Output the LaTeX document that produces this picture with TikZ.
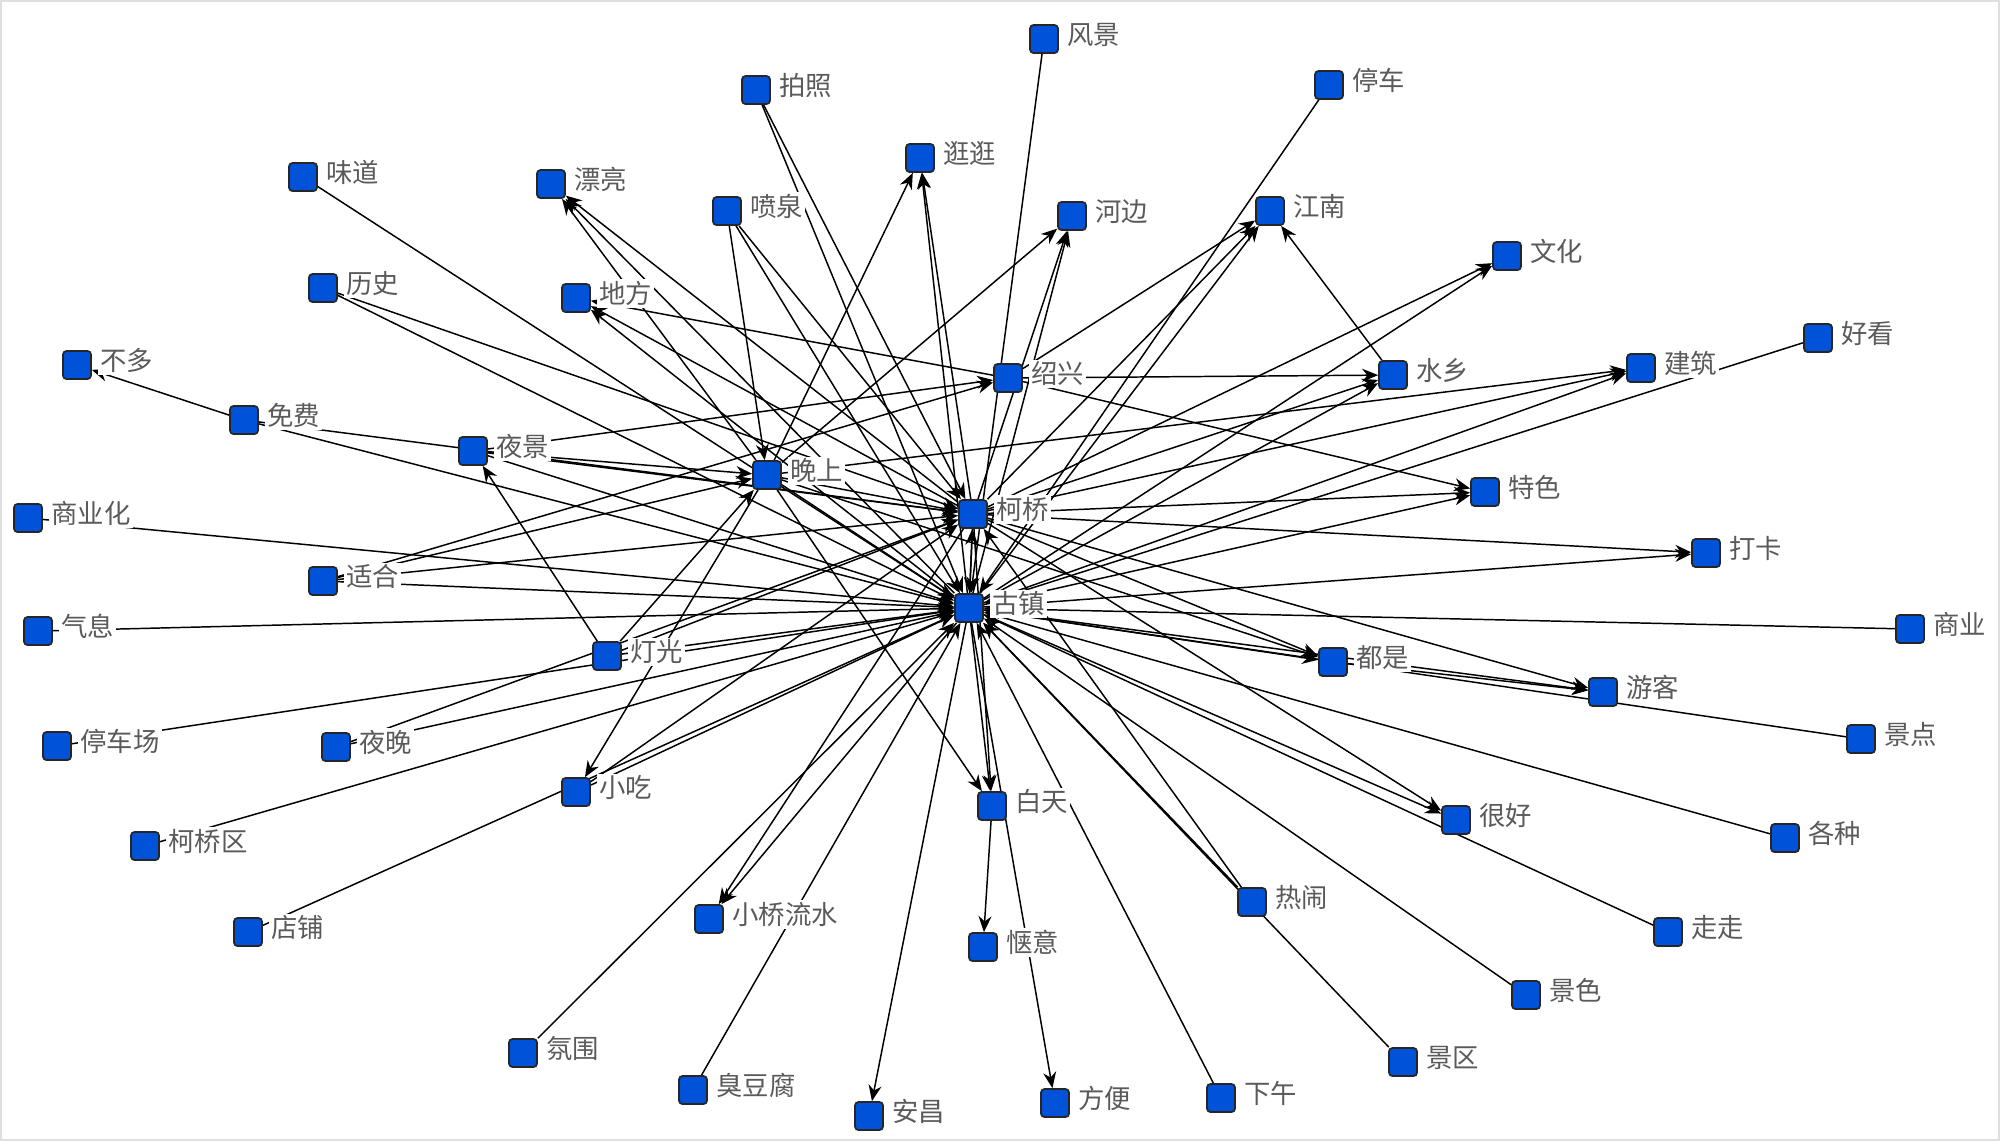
\documentclass[tikz,border=0pt]{standalone}
\usepackage{fontspec}
\usepackage{xcolor}
\usepackage{tikz}
\usetikzlibrary{positioning,arrows.meta,backgrounds}
\newfontfamily\cjk{Noto Sans CJK SC}
\definecolor{nodeblue}{RGB}{0,82,216}
\definecolor{labelgray}{RGB}{90,90,90}
\pgfdeclarelayer{background}
\pgfsetlayers{background,main}
\tikzset{
  sq/.style={draw=black!85, fill=nodeblue, line width=0.5pt, minimum size=0.28cm,
             inner sep=0pt, rounded corners=0.35mm},
  lbl/.style={fill=white, inner sep=0.6pt, text=labelgray,
              font=\cjk\fontsize{7.5}{8.5}\selectfont, yshift=1.2pt},
  arrow/.style={-{Stealth[length=1.6mm,width=1.3mm]}, line width=0.42pt},
}

\begin{document}
\begin{tikzpicture}[x=0.01cm, y=-0.01cm]
  \useasboundingbox (0,0) rectangle (2000,1141);
  \draw[gray!25, line width=0.6pt] (1,1) rectangle (1999,1140);

  % hubs
  \node[sq] (gz)  at (969,608)  {};
  \node[sq] (kq)  at (973,514)  {};
  \node[sq] (sx)  at (1008,378) {};
  \node[sq] (ws)  at (767,475)  {};
  % top
  \node[sq] (fj)  at (1044,39)  {};
  \node[sq] (pz)  at (756,90)   {};
  \node[sq] (tc)  at (1329,85)  {};
  \node[sq] (gg)  at (920,158)  {};
  \node[sq] (wd)  at (303,177)  {};
  \node[sq] (pl)  at (551,184)  {};
  \node[sq] (pq)  at (727,211)  {};
  \node[sq] (hb)  at (1072,216) {};
  \node[sq] (jn)  at (1270,211) {};
  \node[sq] (wh)  at (1507,256) {};
  \node[sq] (ls)  at (323,288)  {};
  \node[sq] (df)  at (576,298)  {};
  \node[sq] (hk)  at (1818,338) {};
  \node[sq] (bd)  at (77,365)   {};
  \node[sq] (jz)  at (1641,368) {};
  \node[sq] (sxg) at (1393,375) {};
  % middle
  \node[sq] (mf)  at (244,420)  {};
  \node[sq] (yj)  at (473,451)  {};
  \node[sq] (ts)  at (1485,492) {};
  \node[sq] (syh) at (28,518)   {};
  \node[sq] (dk)  at (1706,553) {};
  \node[sq] (sh)  at (323,581)  {};
  \node[sq] (qx)  at (38,631)   {};
  \node[sq] (sy)  at (1910,629) {};
  \node[sq] (dg)  at (607,656)  {};
  \node[sq] (ds)  at (1333,662) {};
  \node[sq] (yk)  at (1603,692) {};
  \node[sq] (tcc) at (57,746)   {};
  \node[sq] (yw)  at (336,747)  {};
  \node[sq] (jd)  at (1861,739) {};
  % bottom
  \node[sq] (xc)  at (576,792)  {};
  \node[sq] (bt)  at (992,806)  {};
  \node[sq] (hh)  at (1456,820) {};
  \node[sq] (kqq) at (145,846)  {};
  \node[sq] (gzh) at (1785,838) {};
  \node[sq] (rn)  at (1252,902) {};
  \node[sq] (dp)  at (248,932)  {};
  \node[sq] (xq)  at (709,919)  {};
  \node[sq] (qy)  at (983,947)  {};
  \node[sq] (zz)  at (1668,932) {};
  \node[sq] (js)  at (1526,995) {};
  \node[sq] (jq)  at (1403,1062) {};
  \node[sq] (fw)  at (523,1053) {};
  \node[sq] (cdf) at (693,1090) {};
  \node[sq] (xw)  at (1221,1098) {};
  \node[sq] (fb)  at (1055,1103) {};
  \node[sq] (ac)  at (869,1116) {};

  \begin{pgfonlayer}{background}
    % into the two hubs
    \foreach \s in {wd,ls,syh,qx,tcc,kqq,dp,fw,cdf,xw,jq,js,zz,gzh,jd,sy,hk,tc,fj,
                    sh,mf,yw,dg,xc,yj,rn,ws,pz,pq,kq}
      \draw[arrow] (\s) -- (gz);
    \foreach \s in {ls,pz,pq,sh,mf,yw,dg,xc,yj,rn,ws,gz}
      \draw[arrow] (\s) -- (kq);
    % out of the two hubs
    \foreach \t in {gg,pl,df,hb,jn,wh,sxg,jz,ts,dk,ds,yk,hh,bt,fb,ac,xq}
      \draw[arrow] (gz) -- (\t);
    \foreach \t in {gg,pl,df,hb,jn,wh,sxg,jz,ts,dk,ds,yk,hh,bt,xq}
      \draw[arrow] (kq) -- (\t);
    % evening
    \foreach \t in {gg,pl,hb,bt,xc,ds,jz}
      \draw[arrow] (ws) -- (\t);
    \foreach \s in {pq,sh,dg,yj}
      \draw[arrow] (\s) -- (ws);
    % shaoxing
    \foreach \t in {sxg,ts,df,jn}
      \draw[arrow] (sx) -- (\t);
    \draw[arrow] (yj) -- (sx);
    \draw[arrow] (sh) -- (sx);
    % the rest
    \draw[arrow] (dg) -- (yj);
    \draw[arrow] (mf) -- (bd);
    \draw[arrow] (sxg) -- (jn);
    \draw[arrow] (ds) -- (yk);
    \draw[arrow] (bt) -- (qy);
  \end{pgfonlayer}

  % labels
  \foreach \n/\t in {gz/古镇, kq/柯桥, sx/绍兴, ws/晚上, fj/风景, pz/拍照, tc/停车,
      gg/逛逛, wd/味道, pl/漂亮, pq/喷泉, hb/河边, jn/江南, wh/文化, ls/历史,
      df/地方, hk/好看, bd/不多, jz/建筑, sxg/水乡, mf/免费, yj/夜景, ts/特色,
      syh/商业化, dk/打卡, sh/适合, qx/气息, sy/商业, dg/灯光, ds/都是, yk/游客,
      tcc/停车场, yw/夜晚, jd/景点, xc/小吃, bt/白天, hh/很好, kqq/柯桥区,
      gzh/各种, rn/热闹, dp/店铺, xq/小桥流水, qy/惬意, zz/走走, js/景色,
      jq/景区, fw/氛围, cdf/臭豆腐, xw/下午, fb/方便, ac/安昌}
    \node[lbl, right=1.6pt of \n] (\n-l) {\t};
\end{tikzpicture}
\end{document}
